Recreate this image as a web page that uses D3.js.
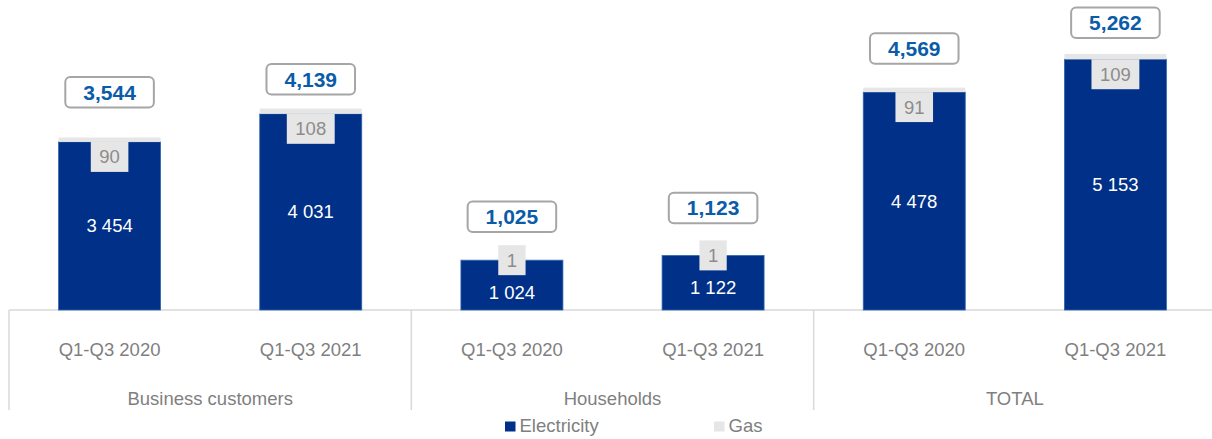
<!DOCTYPE html>
<html>
<head>
<meta charset="utf-8">
<script src="https://cdn.jsdelivr.net/npm/d3@7"></script>
<style>
  html, body { margin: 0; padding: 0; background: #ffffff; }
  svg { display: block; font-family: "Liberation Sans", Arial, sans-serif; }
</style>
</head>
<body>
<svg id="chart" width="1212" height="439"></svg>
<script>
// ---- data ----
const groups = ["Business customers", "Households", "TOTAL"];
const periods = ["Q1-Q3 2020", "Q1-Q3 2021"];
const electricity = [3454, 4031, 1024, 1122, 4478, 5153];
const gas = [90, 108, 1, 1, 91, 109];
const totals = [3544, 4139, 1025, 1123, 4569, 5262];
const seriesNames = ["Electricity", "Gas"];

// ---- layout (not data) ----
const totalLabelGap = [30, 14, 28, 32, 24, 16];
const colors = { Electricity: "#003087", Gas: "#e6e6e6" };
const textGrey = "#7f7f7f";
const lineGrey = "#d9d9d9";
const fontSize = 18.5;

const svg = d3.select("#chart");
const baseY = 310;

const rows = [];
groups.forEach((g, gi) => periods.forEach((p, pi) => {
  const i = gi * periods.length + pi;
  rows.push({ group: g, period: p, elec: electricity[i], gas: gas[i], total: totals[i], i });
}));

const x0 = d3.scaleBand().domain(groups).range([9, 1216]).padding(0);
const x1 = d3.scaleBand().domain(periods).range([0, x0.bandwidth()])
  .paddingInner(0.493).paddingOuter(0.2465);
const y = d3.scaleLinear().domain([0, 6000]).range([baseY, 18]);

// baseline & group separators
svg.append("line").attr("x1", 9).attr("x2", 1212).attr("y1", baseY).attr("y2", baseY)
  .attr("stroke", lineGrey).attr("stroke-width", 1.5);
groups.map(g => x0(g)).forEach(xx => {
  svg.append("line").attr("x1", xx).attr("x2", xx).attr("y1", baseY).attr("y2", 410)
    .attr("stroke", lineGrey).attr("stroke-width", 1.5);
});

// bars
const bar = svg.append("g").selectAll("g.bar").data(rows).join("g")
  .attr("class", "bar")
  .attr("transform", d => `translate(${x0(d.group) + x1(d.period)},0)`);

bar.append("rect")
  .attr("x", 0).attr("width", x1.bandwidth())
  .attr("y", d => y(d.elec)).attr("height", d => y(0) - y(d.elec))
  .attr("fill", colors.Electricity)
  .attr("stroke", "#2f67b0").attr("stroke-width", 0.8);

bar.append("rect")
  .attr("x", 0).attr("width", x1.bandwidth())
  .attr("y", d => y(d.total)).attr("height", d => y(d.elec) - y(d.total))
  .attr("fill", colors.Gas);

const fmtSpace = v => d3.format(",")(v).replace(/,/g, " ");
const fmtComma = d3.format(",");

// gas labels
bar.each(function(d) {
  const g = d3.select(this);
  const cx = x1.bandwidth() / 2;
  const t = g.append("text").text(d.gas)
    .attr("font-size", fontSize).attr("fill", "#8c8c8c").attr("text-anchor", "middle");
  const w = t.node().getComputedTextLength() + 17;
  const h = 30;
  const segH = y(0) - y(d.elec);
  const top = segH > 100 ? y(d.elec) : y(d.elec) - h / 2;
  g.insert("rect", "text:last-of-type")
    .attr("x", cx - w / 2).attr("y", top).attr("width", w).attr("height", h)
    .attr("fill", colors.Gas);
  t.attr("x", cx).attr("y", top + h / 2).attr("dy", "0.35em");
  d._gasBottom = top + h;
});

// electricity labels
bar.append("text")
  .text(d => fmtSpace(d.elec))
  .attr("x", x1.bandwidth() / 2)
  .attr("y", d => Math.max((y(d.elec) + y(0)) / 2, d._gasBottom + 17))
  .attr("dy", "0.35em")
  .attr("text-anchor", "middle").attr("font-size", fontSize).attr("fill", "#ffffff");

// total labels
bar.each(function(d) {
  const g = d3.select(this);
  const cx = x1.bandwidth() / 2;
  const h = 30.5;
  const bottom = y(d.total) - totalLabelGap[d.i];
  const t = g.append("text").text(fmtComma(d.total))
    .attr("font-size", 21).attr("font-weight", "bold").attr("fill", "#0b5ca8")
    .attr("text-anchor", "middle").attr("x", cx).attr("y", bottom - h / 2).attr("dy", "0.35em");
  const w = t.node().getComputedTextLength() + 36;
  g.insert("rect", "text:last-of-type")
    .attr("x", cx - w / 2).attr("y", bottom - h).attr("width", w).attr("height", h)
    .attr("rx", 5).attr("ry", 5)
    .attr("fill", "#ffffff").attr("stroke", "#a6a6a6").attr("stroke-width", 2);
});

// period axis per group
groups.forEach(g => {
  const ax = svg.append("g").attr("transform", `translate(${x0(g)},${baseY})`)
    .call(d3.axisBottom(x1).tickSize(0).tickPadding(0));
  ax.select(".domain").remove();
  ax.selectAll("text").attr("y", 45.5).attr("dy", null)
    .attr("font-size", fontSize).attr("font-family", "Liberation Sans, Arial, sans-serif")
    .attr("fill", textGrey);
});

// group labels
const gax = svg.append("g").attr("transform", `translate(0,${baseY})`)
  .call(d3.axisBottom(x0).tickSize(0).tickPadding(0));
gax.select(".domain").remove();
gax.selectAll("text").attr("y", 95).attr("dy", null)
  .attr("font-size", fontSize).attr("font-family", "Liberation Sans, Arial, sans-serif")
  .attr("fill", textGrey);

// legend
const legendX = [505, 714];
seriesNames.forEach((s, i) => {
  const lg = svg.append("g").attr("transform", `translate(${legendX[i]},421.5)`);
  lg.append("rect").attr("width", 10.5).attr("height", 10).attr("fill", colors[s]);
  lg.append("text").text(s).attr("x", 14.5).attr("y", 10.5)
    .attr("font-size", fontSize).attr("fill", textGrey);
});
</script>
</body>
</html>
